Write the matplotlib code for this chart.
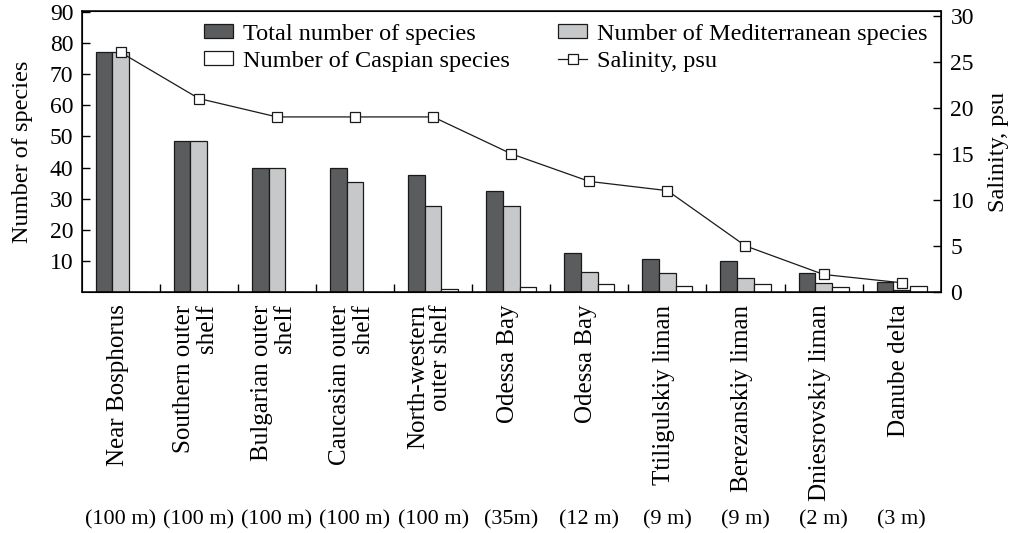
import numpy as np
import matplotlib
matplotlib.use('Agg')
import matplotlib.pyplot as plt
import matplotlib.transforms as mtransforms
from matplotlib.patches import Patch
from matplotlib.lines import Line2D

plt.rcParams['font.family'] = ['Liberation Serif', 'DejaVu Serif']

# stations along the salinity gradient
stations = ['Near Bosphorus', 'Southern outer\nshelf', 'Bulgarian outer\nshelf',
            'Caucasian outer\nshelf', 'North-western\nouter shelf', 'Odessa Bay',
            'Odessa Bay', 'Ttiligulskiy liman', 'Berezanskiy liman',
            'Dniesrovskiy liman', 'Danube delta']
depths = ['(100 m)', '(100 m)', '(100 m)', '(100 m)', '(100 m)', '(35m)',
          '(12 m)', '(9 m)', '(9 m)', '(2 m)', '(3 m)']

total_species = [77, 48.5, 40, 40, 37.5, 32.5, 12.5, 10.5, 10, 6, 3.3]
med_species = [77, 48.5, 40, 35.5, 27.5, 27.5, 6.5, 6.2, 4.4, 2.8, 0.6]
casp_species = [0, 0, 0, 0, 0.9, 1.7, 2.6, 2.0, 2.5, 1.7, 1.9]
salinity = [26, 21, 19, 19, 19, 15, 12, 11, 5, 1.9, 1.0]

left_ticks = [10, 20, 30, 40, 50, 60, 70, 80, 90]
right_ticks = [0, 5, 10, 15, 20, 25, 30]

FS = 17.5
TFS = 17
DARK = '#5b5c5e'
LIGHT = '#c7c8ca'
EDGE = '#1a1a1a'

fig = plt.figure(figsize=(10.11, 5.33), dpi=100)
ax = fig.add_axes([0.0808, 0.4522, 0.8497, 0.5272])
x = np.arange(len(stations))
w = 0.214

ax.bar(x - w, total_species, w, color=DARK, edgecolor=EDGE, linewidth=0.9)
ax.bar(x, med_species, w, color=LIGHT, edgecolor=EDGE, linewidth=0.9)
ax.bar(x + w, casp_species, w, color='white', edgecolor=EDGE, linewidth=0.9)

ax.set_xlim(-0.5, len(stations) - 0.5)
ax.set_ylim(0, 90.3)
ax.set_yticks(left_ticks)
ax.set_xticks([])
ax.set_xticks(np.arange(len(stations) - 1) + 0.5, minor=True)
ax.tick_params(axis='x', which='minor', direction='in', length=6, width=1)
ax.tick_params(axis='y', direction='in', length=6, width=1, labelsize=TFS, pad=6)
ax.set_ylabel('Number of species', fontsize=FS, labelpad=12)
for s in ax.spines.values():
    s.set_linewidth(1.1)

ax2 = ax.twinx()
ax2.plot(x, salinity, color=EDGE, lw=0.9, marker='s', ms=7.5,
         mfc='white', mec=EDGE, mew=0.9, zorder=5)
ax2.set_ylim(0, 30.5)
ax2.set_yticks(right_ticks)
ax2.tick_params(axis='y', direction='in', length=6, width=1, labelsize=TFS, pad=7)
ax2.set_ylabel('Salinity, psu', fontsize=FS, labelpad=10)

# station names below the axis
for i, name in enumerate(stations):
    ax.text(i - 0.04, -0.045, name, transform=ax.get_xaxis_transform(), rotation=90,
            ha='center', va='top', multialignment='right', fontsize=18,
            linespacing=1.05)

# depths on one row at the bottom
trans = mtransforms.blended_transform_factory(ax.transData, fig.transFigure)
for i, d in enumerate(depths):
    ax.text(i, 0.024, d, transform=trans, ha='center', va='center', fontsize=16)

handles = [Patch(facecolor=DARK, edgecolor=EDGE, linewidth=0.9),
           Patch(facecolor='white', edgecolor=EDGE, linewidth=0.9),
           Patch(facecolor=LIGHT, edgecolor=EDGE, linewidth=0.9),
           Line2D([], [], color=EDGE, lw=0.9, marker='s', ms=7.5,
                  mfc='white', mec=EDGE, mew=0.9)]
labels = ['Total number of species', 'Number of Caspian species',
          'Number of Mediterranean species', 'Salinity, psu']
ax2.legend(handles, labels, ncol=2, loc='upper left', bbox_to_anchor=(0.142, 0.955),
           frameon=False, fontsize=FS, handlelength=1.2, handleheight=0.5,
           handletextpad=0.4, labelspacing=0.25, columnspacing=2.0,
           borderpad=0, borderaxespad=0)

fig.savefig('out.png', dpi=100)
